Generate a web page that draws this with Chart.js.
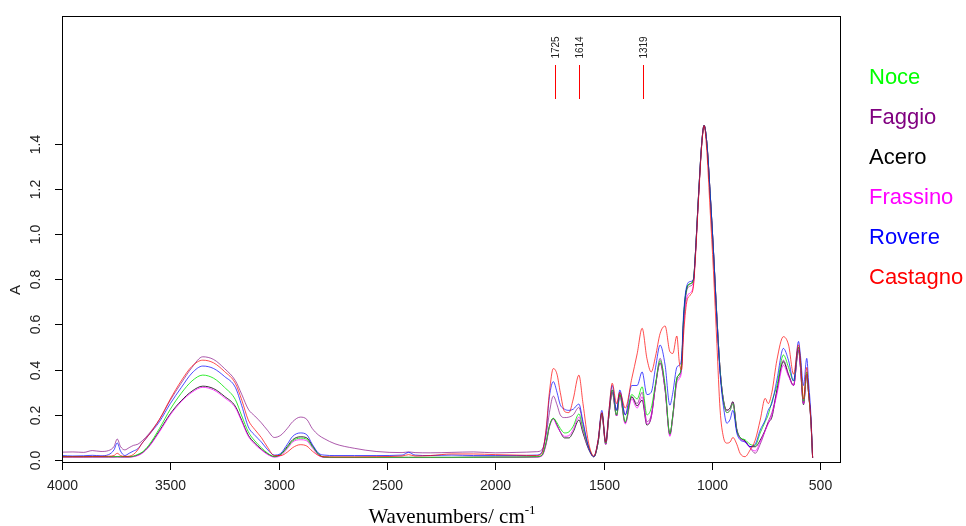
<!DOCTYPE html>
<html>
<head>
<meta charset="utf-8">
<script src="https://cdn.jsdelivr.net/npm/chart.js@4/dist/chart.umd.min.js"></script>
<style>
html,body{margin:0;padding:0;background:#fff;}
#wrap{width:966px;height:526px;}
</style>
</head>
<body>
<div id="wrap"><canvas id="spectra" width="966" height="526"></canvas></div>
<script>
let wavenumbers=[4000,3950,3900,3860,3820,3785,3760,3745,3730,3710,3690,3670,3650,3630,3600,3550,3500,3450,3400,3350,3300,3250,3200,3170,3140,3110,3080,3050,3020,2990,2960,2935,2900,2870,2845,2815,2790,2740,2650,2550,2430,2400,2370,2300,2200,2100,2000,1900,1810,1785,1765,1750,1732,1715,1700,1680,1660,1640,1614,1595,1570,1545,1525,1508,1490,1475,1460,1440,1425,1400,1370,1345,1322,1300,1280,1260,1239,1216,1194,1180,1162,1150,1140,1131,1116,1100,1085,1077,1062,1047,1036,1023,1008,993,977,962,947,931,916,903,885,870,847,824,800,777,754,740,723,700,670,646,623,600,592,577,562,554,543,535];

let noce=[.015,.015,.015,.015,.015,.015,.015,.015,.015,.015,.015,.018,.025,.035,.065,.140,.225,.295,.350,.376,.362,.322,.268,.195,.125,.085,.055,.030,.016,.025,.055,.085,.097,.092,.060,.025,.013,.012,.012,.012,.012,.012,.012,.012,.012,.012,.013,.013,.015,.022,.080,.150,.185,.165,.140,.120,.125,.150,.204,.140,.060,.015,.080,.205,.075,.200,.310,.200,.290,.170,.290,.270,.324,.200,.230,.340,.440,.330,.115,.200,.360,.380,.420,.620,.760,.780,.800,.900,1.165,1.400,1.480,1.400,1.180,.930,.634,.398,.265,.210,.220,.250,.133,.100,.090,.070,.065,.120,.170,.200,.260,.330,.465,.410,.350,.500,.450,.260,.390,.300,.177,.010];
let faggio=[.035,.036,.034,.042,.038,.042,.060,.093,.060,.045,.055,.065,.070,.085,.115,.180,.265,.340,.410,.457,.445,.405,.352,.290,.225,.195,.165,.130,.100,.110,.140,.170,.190,.180,.140,.110,.095,.072,.052,.038,.033,.036,.033,.032,.034,.036,.032,.034,.037,.045,.110,.210,.283,.245,.200,.188,.190,.200,.233,.160,.060,.015,.080,.200,.070,.200,.310,.220,.300,.200,.280,.250,.300,.170,.200,.330,.450,.320,.110,.200,.350,.370,.410,.600,.750,.770,.790,.900,1.165,1.400,1.480,1.400,1.180,.930,.634,.400,.270,.220,.230,.258,.140,.100,.085,.055,.030,.070,.130,.170,.210,.300,.442,.380,.330,.500,.420,.250,.380,.300,.177,.010];
let acero=[.014,.014,.014,.014,.014,.014,.014,.015,.014,.014,.014,.016,.022,.032,.060,.130,.205,.262,.305,.327,.316,.282,.238,.175,.110,.075,.048,.027,.015,.025,.060,.090,.103,.098,.065,.025,.013,.012,.012,.012,.012,.012,.012,.012,.012,.013,.013,.013,.014,.020,.075,.150,.184,.155,.125,.098,.098,.125,.177,.120,.050,.015,.080,.208,.070,.200,.300,.195,.290,.165,.280,.240,.265,.155,.190,.330,.430,.310,.115,.200,.360,.380,.420,.620,.760,.780,.800,.900,1.165,1.400,1.482,1.400,1.180,.930,.634,.398,.265,.221,.230,.258,.133,.100,.085,.059,.059,.088,.133,.165,.190,.310,.435,.376,.330,.487,.420,.245,.380,.300,.170,.010];
let frassino=[.013,.013,.013,.013,.013,.013,.013,.013,.013,.013,.013,.015,.020,.030,.057,.125,.200,.258,.300,.322,.310,.276,.232,.170,.105,.070,.045,.024,.013,.020,.050,.080,.090,.085,.055,.020,.012,.011,.011,.011,.011,.011,.011,.011,.011,.012,.012,.012,.013,.018,.070,.145,.180,.150,.125,.105,.108,.135,.190,.130,.055,.015,.080,.200,.070,.200,.300,.195,.280,.160,.270,.230,.280,.160,.190,.330,.430,.310,.105,.190,.340,.360,.400,.580,.720,.740,.780,.890,1.160,1.400,1.480,1.400,1.180,.930,.634,.398,.265,.210,.220,.250,.130,.095,.080,.055,.040,.080,.130,.160,.200,.290,.420,.370,.330,.490,.420,.250,.380,.300,.170,.010];
let rovere=[.020,.018,.019,.021,.019,.024,.045,.076,.040,.020,.030,.040,.050,.075,.110,.170,.250,.320,.385,.416,.405,.370,.322,.240,.147,.110,.080,.045,.022,.030,.070,.105,.120,.112,.070,.030,.022,.020,.020,.020,.022,.034,.022,.020,.022,.020,.020,.020,.022,.035,.130,.280,.347,.300,.245,.225,.220,.225,.248,.170,.060,.015,.090,.220,.080,.220,.330,.220,.310,.200,.330,.330,.390,.290,.300,.410,.509,.420,.243,.300,.410,.420,.450,.640,.770,.790,.800,.900,1.165,1.400,1.480,1.400,1.180,.930,.620,.380,.240,.163,.180,.220,.120,.090,.080,.060,.070,.133,.177,.220,.251,.354,.494,.440,.350,.525,.470,.330,.450,.350,.200,.010];
let castagno=[.015,.015,.015,.016,.016,.017,.020,.030,.020,.016,.017,.025,.045,.075,.110,.180,.270,.350,.415,.442,.430,.392,.340,.265,.177,.135,.100,.055,.020,.020,.035,.055,.068,.062,.040,.020,.015,.014,.014,.015,.018,.024,.018,.020,.027,.027,.024,.022,.020,.030,.140,.300,.405,.380,.300,.215,.210,.270,.376,.250,.080,.018,.090,.210,.080,.220,.340,.250,.300,.230,.360,.470,.583,.450,.390,.460,.560,.593,.480,.472,.549,.430,.400,.550,.700,.730,.770,.880,1.150,1.390,1.480,1.360,1.105,.840,.516,.221,.103,.075,.080,.100,.070,.030,.015,.044,.088,.177,.273,.250,.300,.442,.546,.509,.380,.510,.450,.270,.410,.300,.180,.010];

let seriesNames=["Noce","Faggio","Acero","Frassino","Rovere","Castagno"];
let seriesColors=["#00ff00","#800080","#000000","#ff00ff","#0000ff","#ff0000"];
let lineColors=["rgba(0,230,0,0.8)","rgba(128,0,128,0.65)","rgba(0,0,0,0.8)","rgba(255,0,255,0.75)","rgba(0,0,255,0.7)","rgba(255,0,0,0.7)"];
let xTicks=[4000,3500,3000,2500,2000,1500,1000,500];
let yTicks=[0,0.2,0.4,0.6,0.8,1.0,1.2,1.4];
let peakMarks=[1725,1614,1319];

let allSeries=[noce,faggio,acero,frassino,rovere,castagno];
let drawOrder=[5,4,0,3,1,2];

let decor={
id:"decor",
afterDraw(chart){
let ctx=chart.ctx,a=chart.chartArea;
let xs=chart.scales.x,ys=chart.scales.y;
ctx.save();
ctx.strokeStyle="#000";ctx.lineWidth=1;
ctx.strokeRect(a.left+0.5,a.top+0.5,a.right-a.left-1,a.bottom-a.top-1);
// x axis
ctx.fillStyle="#222";
ctx.font="14px 'Liberation Sans',Arial,sans-serif";
ctx.textAlign="center";ctx.textBaseline="middle";
xTicks.forEach(v=>{
let px=Math.round(xs.getPixelForValue(v))+0.5;
ctx.beginPath();ctx.moveTo(px,a.bottom);ctx.lineTo(px,a.bottom+7);ctx.stroke();
ctx.fillText(String(v),px,486);
});
// y axis
yTicks.forEach(v=>{
let py=Math.round(ys.getPixelForValue(v))+0.5;
ctx.beginPath();ctx.moveTo(a.left,py);ctx.lineTo(a.left-7,py);ctx.stroke();
ctx.save();ctx.translate(36,py);ctx.rotate(-Math.PI/2);
ctx.fillText(v.toFixed(1),0,0);
ctx.restore();
});
ctx.save();ctx.translate(16,290);ctx.rotate(-Math.PI/2);
ctx.font="15px 'Liberation Sans',Arial,sans-serif";
ctx.fillText("A",0,0);
ctx.restore();
// x title
ctx.fillStyle="#000";
ctx.textBaseline="alphabetic";ctx.textAlign="left";
ctx.font="21px 'Liberation Serif','Times New Roman',serif";
let t1="Wavenumbers/ cm",w1=ctx.measureText(t1).width;
ctx.font="13px 'Liberation Serif','Times New Roman',serif";
let w2=ctx.measureText("-1").width;
let x0=452-(w1+w2)/2;
ctx.font="21px 'Liberation Serif','Times New Roman',serif";
ctx.fillText(t1,x0,523);
ctx.font="13px 'Liberation Serif','Times New Roman',serif";
ctx.fillText("-1",x0+w1,514);
// peak marks
peakMarks.forEach(v=>{
let px=Math.round(xs.getPixelForValue(v));
ctx.fillStyle="#ff0000";
ctx.fillRect(px,65,1,34);
ctx.save();ctx.translate(px+1,47.5);ctx.rotate(-Math.PI/2);
ctx.fillStyle="#222";ctx.textAlign="center";ctx.textBaseline="middle";
ctx.font="10px 'Liberation Sans',Arial,sans-serif";
ctx.fillText(String(v),0,0);
ctx.restore();
});
// legend
ctx.font="22px 'Liberation Sans',Arial,sans-serif";
ctx.textAlign="left";ctx.textBaseline="alphabetic";
seriesNames.forEach((n,i)=>{
ctx.fillStyle=seriesColors[i];
ctx.fillText(n,869,84+i*40);
});
ctx.restore();
}
};

new Chart(document.getElementById("spectra"),{
type:"line",
data:{
datasets:drawOrder.map(i=>({
label:seriesNames[i],
data:wavenumbers.map((w,k)=>({x:w,y:allSeries[i][k]})),
borderColor:lineColors[i],
borderWidth:1,
pointRadius:0,
cubicInterpolationMode:"monotone",
fill:false
}))
},
options:{
responsive:false,
animation:false,
layout:{padding:{left:62,right:125,top:16,bottom:63}},
plugins:{legend:{display:false},tooltip:{enabled:false}},
scales:{
x:{type:"linear",reverse:true,min:404,max:4000,display:false},
y:{min:-0.013,max:1.965,display:false}
}
},
plugins:[decor]
});
</script>
</body>
</html>
